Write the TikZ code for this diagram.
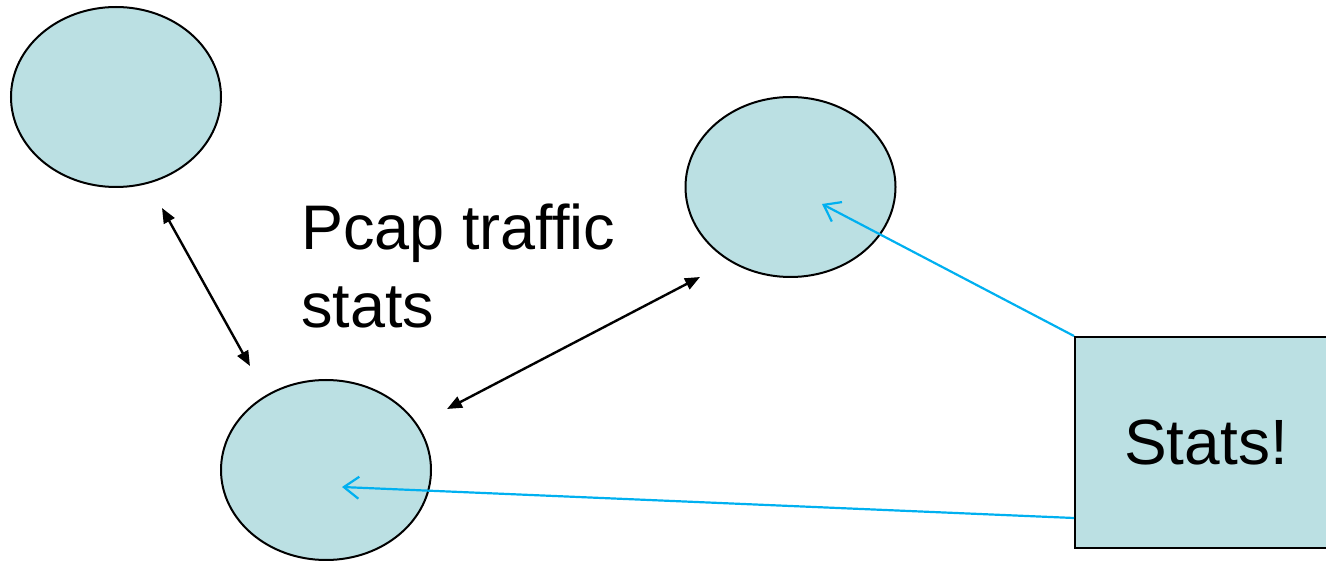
\documentclass[tikz,border=0pt]{standalone}
\usepackage{fontspec}
\setmainfont{Liberation Sans}
\usetikzlibrary{shapes.geometric,arrows.meta,calc}
\definecolor{nodefill}{HTML}{BBE0E3}
\definecolor{linkblue}{HTML}{00B0F0}
\tikzset{
  hostnode/.style={ellipse, draw=black, line width=2pt, fill=nodefill,
    minimum width=210pt, minimum height=180pt, inner sep=0pt},
  statsbox/.style={rectangle, draw=black, line width=2pt, fill=nodefill,
    minimum width=265pt, minimum height=211pt, inner sep=0pt,
    font=\fontsize{64}{70}\selectfont},
  traffic/.style={line width=2.4pt, {Triangle[length=15pt,width=12pt]}-{Triangle[length=15pt,width=12pt]}},
  feed/.style={draw=linkblue, line width=2.2pt, -{Straight Barb[length=15pt,width=22pt,line width=2.2pt]}},
}
\begin{document}
\begin{tikzpicture}[x=1pt,y=-1pt]
  \useasboundingbox (0,0) rectangle (1326,561);
  \clip (0,0) rectangle (1326,561);

  % hosts
  \node[hostnode] (e1) at (116,97) {};
  \node[hostnode] (e2) at (790.5,187) {};
  \node[hostnode] (e3) at (326,470) {};

  % stats collector, running past the right edge
  \node[statsbox] (stats) at (1207.5,442.5) {\hspace*{-3pt}\raisebox{-4pt}{Stats!}};

  % label
  \node[anchor=base west, align=left, inner sep=0pt,
        font=\fontsize{63}{78}\selectfont] (lbl) at (301,328) {Pcap traffic\\stats};

  % traffic links
  \coordinate (t1a) at ($(e1.center)+(46,111)$);
  \coordinate (t1b) at ($(e3.center)+(-76,-104)$);
  \coordinate (t2a) at ($(e3.center)+(121,-61)$);
  \coordinate (t2b) at ($(e2.center)+(-90.5,90)$);
  \draw[traffic] (t1a) -- (t1b);
  \draw[traffic] (t2a) -- (t2b);

  % stats feeds
  \coordinate (f1) at ($(e2.center)+(31.5,17)$);
  \coordinate (f2) at ($(e3.center)+(16,17)$);
  \coordinate (s2) at ($(stats.west)+(0,75.5)$);
  \draw[feed] (stats.north west) -- (f1);
  \draw[feed] (s2) -- (f2);
\end{tikzpicture}
\end{document}
